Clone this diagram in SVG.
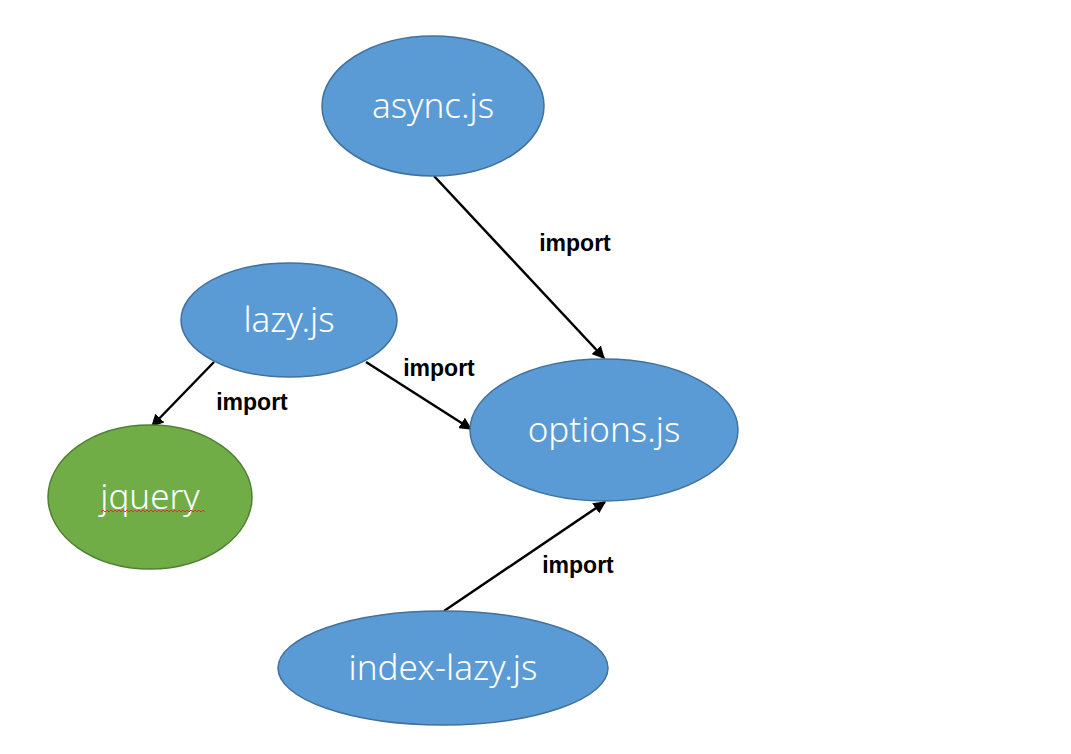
<svg xmlns="http://www.w3.org/2000/svg" width="1071" height="754" viewBox="0 0 1071 754">
<defs>
<marker id="arr" viewBox="0 0 10 10" refX="9" refY="5" markerWidth="5" markerHeight="5" orient="auto" markerUnits="strokeWidth">
<path d="M0,0 L10,5 L0,10 z" fill="#000"/>
</marker>
</defs>
<style>
.blue{fill:#5B9BD5;stroke:#41719C;stroke-width:1.5}
.green{fill:#70AD47;stroke:#507E32;stroke-width:1.5}
.nt{font-family:"Noto Sans","Open Sans",sans-serif;font-size:35px;fill:#fff;text-anchor:middle;font-weight:300}
.lbl{font-family:"Liberation Sans",Arial,sans-serif;font-size:23px;font-weight:bold;fill:#000;text-anchor:middle}
.edge{stroke:#000;stroke-width:2.5;fill:none;marker-end:url(#arr)}
</style>
<rect width="1071" height="754" fill="#fff"/>
<g id="connectors">
<line class="edge" x1="434" y1="176" x2="604" y2="358"/>
<line class="edge" x1="214" y1="362" x2="152" y2="426"/>
<line class="edge" x1="366" y1="362" x2="471" y2="429"/>
<line class="edge" x1="444" y1="611" x2="605" y2="502"/>
<text class="lbl" x="575" y="251">import</text>
<text class="lbl" x="439" y="376">import</text>
<text class="lbl" x="252" y="410">import</text>
<text class="lbl" x="578" y="573">import</text>
</g>
<g id="async">
<ellipse class="blue" cx="433" cy="106" rx="111" ry="70"/>
<text class="nt" x="433" y="118">async.js</text>
</g>
<g id="lazy">
<ellipse class="blue" cx="289" cy="320" rx="108" ry="57"/>
<text class="nt" x="289" y="332">lazy.js</text>
</g>
<g id="options">
<ellipse class="blue" cx="604" cy="430" rx="134" ry="71"/>
<text class="nt" x="604" y="442">options.js</text>
</g>
<g id="jquery">
<ellipse class="green" cx="150" cy="497" rx="102" ry="72"/>
<text class="nt" x="150" y="509">jquery</text>
<path d="M101,512 l2,-2 l2,2 l2,-2 l2,2 l2,-2 l2,2 l2,-2 l2,2 l2,-2 l2,2 l2,-2 l2,2 l2,-2 l2,2 l2,-2 l2,2 l2,-2 l2,2 l2,-2 l2,2 l2,-2 l2,2 l2,-2 l2,2 l2,-2 l2,2 l2,-2 l2,2 l2,-2 l2,2 l2,-2 l2,2 l2,-2 l2,2 l2,-2 l2,2 l2,-2 l2,2 l2,-2 l2,2 l2,-2 l2,2 l2,-2 l2,2 l2,-2 l2,2 l2,-2 l2,2 l2,-2 l2,2 l2,-2 l2,2" fill="none" stroke="#e03030" stroke-width="1"/>
</g>
<g id="index-lazy">
<ellipse class="blue" cx="443" cy="668" rx="165" ry="57"/>
<text class="nt" x="443" y="680">index-lazy.js</text>
</g>
</svg>
